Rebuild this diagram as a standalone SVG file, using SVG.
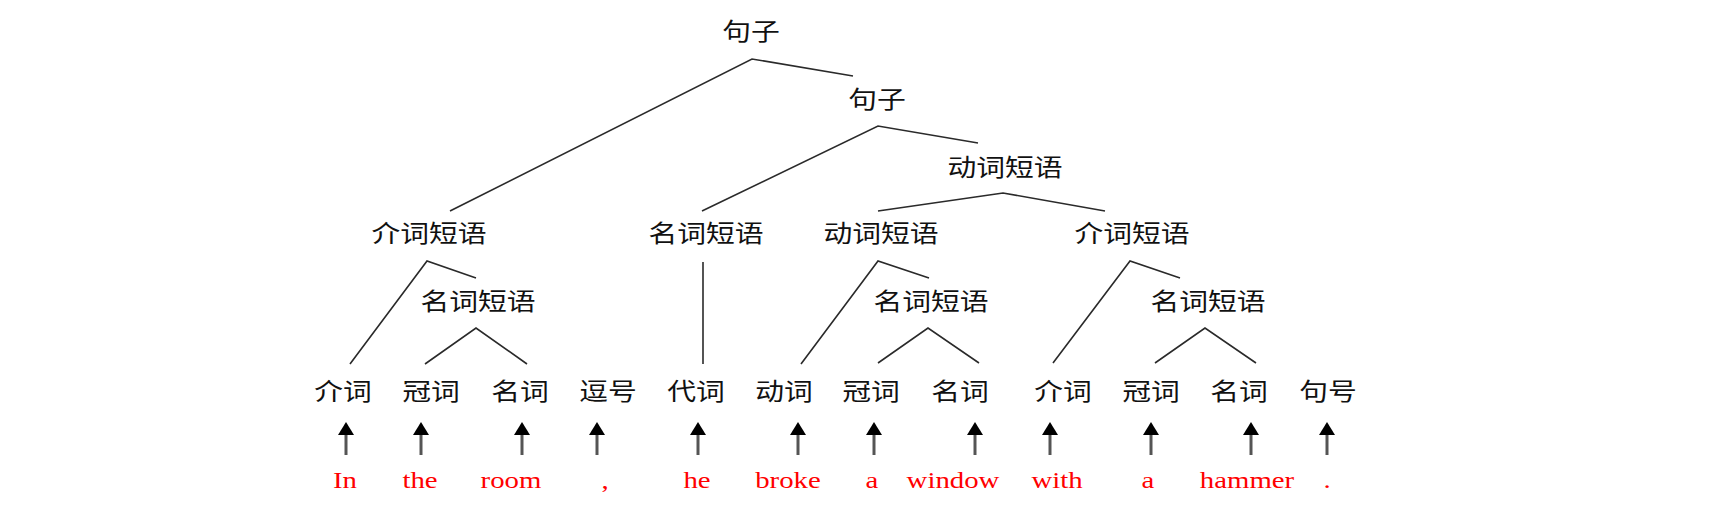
<svg xmlns="http://www.w3.org/2000/svg" width="1710" height="520" viewBox="0 0 1710 520">
<style>
.n{font-family:"Noto Sans CJK SC","Noto Sans",sans-serif;font-size:24px;fill:#111;text-anchor:middle}
.w{font-family:"Liberation Serif","Times New Roman",serif;font-size:24px;fill:#ff0000;text-anchor:middle}
.e{stroke:#2a2a2a;stroke-width:1.6;fill:none;stroke-linejoin:miter}
.a{stroke:#555;stroke-width:3;marker-end:url(#ah)}
</style>
<defs>
<marker id="ah" viewBox="0 0 13 16" refX="0" refY="8" markerWidth="13" markerHeight="16" markerUnits="userSpaceOnUse" orient="auto">
<path d="M0,0 L13,8 L0,16 z" fill="#000"/>
</marker>
</defs>
<rect width="1710" height="520" fill="#fff"/>
<g id="connectors">
<polyline class="e" points="450,211 752,59 853,76"/>
<polyline class="e" points="702,211 878,126 978,143"/>
<polyline class="e" points="878,211 1003,193 1105,211"/>
<polyline class="e" points="350,364 427,261 476,278"/>
<polyline class="e" points="425,364 476,328 527,364"/>
<line class="e" x1="703" y1="262" x2="703" y2="364"/>
<polyline class="e" points="801,364 878,261 929,278"/>
<polyline class="e" points="878,363 928,328 979,363"/>
<polyline class="e" points="1053,363 1130,261 1180,278"/>
<polyline class="e" points="1155,363 1205,328 1256,363"/>
<line class="a" x1="346" y1="455" x2="346" y2="435"/>
<line class="a" x1="421" y1="455" x2="421" y2="435"/>
<line class="a" x1="522" y1="455" x2="522" y2="435"/>
<line class="a" x1="597" y1="455" x2="597" y2="435"/>
<line class="a" x1="698" y1="455" x2="698" y2="435"/>
<line class="a" x1="798" y1="455" x2="798" y2="435"/>
<line class="a" x1="874" y1="455" x2="874" y2="435"/>
<line class="a" x1="975" y1="455" x2="975" y2="435"/>
<line class="a" x1="1050" y1="455" x2="1050" y2="435"/>
<line class="a" x1="1151" y1="455" x2="1151" y2="435"/>
<line class="a" x1="1251" y1="455" x2="1251" y2="435"/>
<line class="a" x1="1327" y1="455" x2="1327" y2="435"/>
</g>
<g id="s1" transform="translate(751,40) scale(1.2,1)"><text class="n">句子</text></g>
<g id="s2" transform="translate(877,108) scale(1.2,1)"><text class="n">句子</text></g>
<g id="vp1" transform="translate(1005,176) scale(1.2,1)"><text class="n">动词短语</text></g>
<g id="pp1" transform="translate(429,242) scale(1.2,1)"><text class="n">介词短语</text></g>
<g id="np1" transform="translate(706,242) scale(1.2,1)"><text class="n">名词短语</text></g>
<g id="vp2" transform="translate(881,242) scale(1.2,1)"><text class="n">动词短语</text></g>
<g id="pp2" transform="translate(1132,242) scale(1.2,1)"><text class="n">介词短语</text></g>
<g id="np2" transform="translate(478,310) scale(1.2,1)"><text class="n">名词短语</text></g>
<g id="np3" transform="translate(931,310) scale(1.2,1)"><text class="n">名词短语</text></g>
<g id="np4" transform="translate(1208,310) scale(1.2,1)"><text class="n">名词短语</text></g>
<g id="t1" transform="translate(343,400) scale(1.2,1)"><text class="n">介词</text></g>
<g id="t2" transform="translate(431,400) scale(1.2,1)"><text class="n">冠词</text></g>
<g id="t3" transform="translate(520,400) scale(1.2,1)"><text class="n">名词</text></g>
<g id="t4" transform="translate(608,400) scale(1.2,1)"><text class="n">逗号</text></g>
<g id="t5" transform="translate(696,400) scale(1.2,1)"><text class="n">代词</text></g>
<g id="t6" transform="translate(784,400) scale(1.2,1)"><text class="n">动词</text></g>
<g id="t7" transform="translate(871,400) scale(1.2,1)"><text class="n">冠词</text></g>
<g id="t8" transform="translate(960,400) scale(1.2,1)"><text class="n">名词</text></g>
<g id="t9" transform="translate(1063,400) scale(1.2,1)"><text class="n">介词</text></g>
<g id="t10" transform="translate(1151,400) scale(1.2,1)"><text class="n">冠词</text></g>
<g id="t11" transform="translate(1239,400) scale(1.2,1)"><text class="n">名词</text></g>
<g id="t12" transform="translate(1328,400) scale(1.2,1)"><text class="n">句号</text></g>
<g id="w1" transform="translate(345,488) scale(1.2,1)"><text class="w">In</text></g>
<g id="w2" transform="translate(420,488) scale(1.2,1)"><text class="w">the</text></g>
<g id="w3" transform="translate(511,488) scale(1.2,1)"><text class="w">room</text></g>
<g id="w4" transform="translate(605,488) scale(1.2,1)"><text class="w">,</text></g>
<g id="w5" transform="translate(697,488) scale(1.2,1)"><text class="w">he</text></g>
<g id="w6" transform="translate(788,488) scale(1.2,1)"><text class="w">broke</text></g>
<g id="w7" transform="translate(872,488) scale(1.2,1)"><text class="w">a</text></g>
<g id="w8" transform="translate(953,488) scale(1.2,1)"><text class="w">window</text></g>
<g id="w9" transform="translate(1057,488) scale(1.2,1)"><text class="w">with</text></g>
<g id="w10" transform="translate(1148,488) scale(1.2,1)"><text class="w">a</text></g>
<g id="w11" transform="translate(1247,488) scale(1.2,1)"><text class="w">hammer</text></g>
<g id="w12" transform="translate(1327,488) scale(1.2,1)"><text class="w">.</text></g>
</svg>
